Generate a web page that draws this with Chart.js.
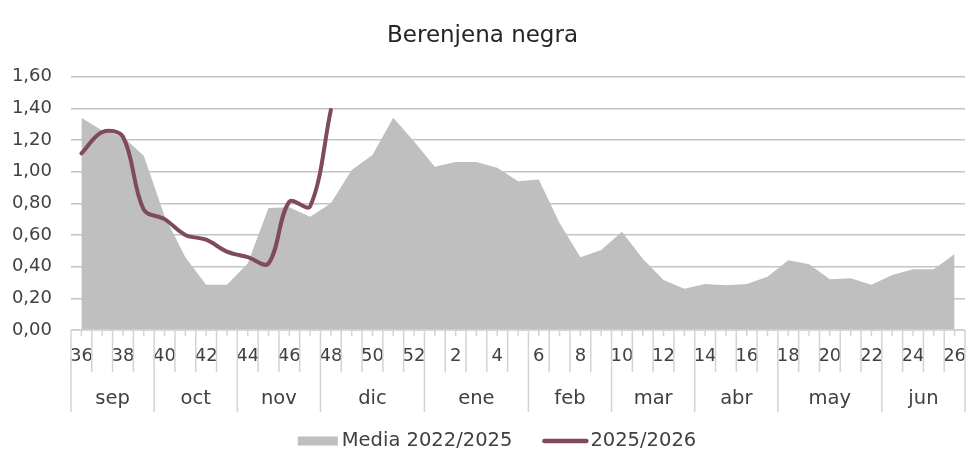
<!DOCTYPE html>
<html>
<head>
<meta charset="utf-8">
<script src="https://cdn.jsdelivr.net/npm/chart.js@4.4.1/dist/chart.umd.min.js"></script>
<style>
html,body{margin:0;padding:0;background:#ffffff;}
#wrap{width:971px;height:455px;}
</style>
</head>
<body>
<div id="wrap"><canvas id="c" width="971" height="455"></canvas></div>
<script>
// ---- data ----
const chartTitle = 'Berenjena negra';
const weeks = ['36','37','38','39','40','41','42','43','44','45','46','47','48','49','50','51','52',
               '1','2','3','4','5','6','7','8','9','10','11','12','13','14','15','16','17','18','19','20','21','22','23','24','25','26'];
const mediaLabel = 'Media 2022/2025';
const mediaValues = [1.34, 1.26, 1.22, 1.10, 0.72, 0.46, 0.285, 0.285, 0.42, 0.77, 0.775, 0.715, 0.80,
                     1.01, 1.105, 1.34, 1.19, 1.03, 1.06, 1.06, 1.025, 0.94, 0.95, 0.675, 0.46, 0.505,
                     0.62, 0.45, 0.315, 0.26, 0.29, 0.283, 0.29, 0.337, 0.44, 0.415, 0.32, 0.327, 0.285,
                     0.348, 0.384, 0.384, 0.48];
const currentLabel = '2025/2026';
const currentValues = [1.115, 1.25, 1.22, 0.76, 0.70, 0.60, 0.57, 0.495, 0.46, 0.42, 0.81, 0.78, 1.39];
const months = ['sep','oct','nov','dic','ene','feb','mar','abr','may','jun'];
const monthWeekCounts = [4, 4, 4, 5, 5, 4, 4, 4, 5, 4];
const yMin = 0, yMax = 1.6, yStep = 0.2;

// ---- styles ----
const FONT = "'DejaVu Sans', sans-serif";
const TEXT = '#404040';
const AREA = '#bfbfbf';
const LINE = '#7f4b5b';
const AXIS = '#d3d3d3';

Chart.defaults.font.family = FONT;
Chart.defaults.color = TEXT;

const decoPlugin = {
  id: 'decoPlugin',
  afterDraw(chart) {
    const ctx = chart.ctx, xs = chart.scales.x, area = chart.chartArea;
    const n = weeks.length;
    const half = (xs.getPixelForValue(1) - xs.getPixelForValue(0)) / 2;
    const bound = k => (k < n ? xs.getPixelForValue(k) - half : xs.getPixelForValue(n - 1) + half);
    const y0 = area.bottom;
    ctx.save();
    ctx.strokeStyle = AXIS;
    ctx.lineWidth = 1.5;
    ctx.beginPath();
    ctx.moveTo(bound(0), y0); ctx.lineTo(bound(n), y0);
    for (let k = 0; k <= n; k++) { const x = bound(k); ctx.moveTo(x, y0); ctx.lineTo(x, y0 + 42); }
    for (let i = 0; i < n; i++) { const x = xs.getPixelForValue(i); ctx.moveTo(x, y0); ctx.lineTo(x, y0 + 6); }
    let k = 0;
    ctx.moveTo(bound(0), y0); ctx.lineTo(bound(0), y0 + 82);
    monthWeekCounts.forEach(c => { k += c; const x = bound(k); ctx.moveTo(x, y0); ctx.lineTo(x, y0 + 82); });
    ctx.stroke();

    // month labels
    ctx.fillStyle = TEXT;
    ctx.font = "19.5px " + FONT;
    ctx.textAlign = 'center';
    ctx.textBaseline = 'alphabetic';
    k = 0;
    monthWeekCounts.forEach((c, m) => {
      const xa = bound(k), xb = bound(k + c);
      ctx.fillText(months[m], (xa + xb) / 2, y0 + 74);
      k += c;
    });

    // legend
    const ds = chart.data.datasets;
    ctx.font = "19.5px " + FONT;
    ctx.textAlign = 'left';
    ctx.textBaseline = 'middle';
    const w1 = ctx.measureText(ds[0].label).width, w2 = ctx.measureText(ds[1].label).width;
    const boxW = 40, gap1 = 4, gapMid = 30, lineW = 46, gap2 = 2;
    const total = boxW + gap1 + w1 + gapMid + lineW + gap2 + w2;
    let x = 497 - total / 2;
    const ly = 441;
    ctx.fillStyle = ds[0].backgroundColor;
    ctx.fillRect(x, ly - 4.5, boxW, 9);
    x += boxW + gap1;
    ctx.fillStyle = TEXT;
    ctx.fillText(ds[0].label, x, ly);
    x += w1 + gapMid;
    ctx.strokeStyle = ds[1].borderColor;
    ctx.lineWidth = 4.5;
    ctx.lineCap = 'round';
    ctx.beginPath(); ctx.moveTo(x + 2, ly); ctx.lineTo(x + lineW - 2, ly); ctx.stroke();
    x += lineW + gap2;
    ctx.fillText(ds[1].label, x, ly);
    ctx.restore();
  }
};

new Chart(document.getElementById('c'), {
  type: 'line',
  data: {
    labels: weeks,
    datasets: [
      {
        label: mediaLabel,
        data: mediaValues,
        backgroundColor: AREA,
        borderColor: AREA,
        borderWidth: 0,
        fill: 'origin',
        pointRadius: 0,
        tension: 0,
        order: 2
      },
      {
        label: currentLabel,
        data: currentValues,
        borderColor: LINE,
        backgroundColor: LINE,
        borderWidth: 4,
        fill: false,
        pointRadius: 0,
        tension: 0.35,
        borderCapStyle: 'round',
        borderJoinStyle: 'round',
        order: 1
      }
    ]
  },
  options: {
    responsive: false,
    animation: false,
    events: [],
    layout: { padding: { left: 0, right: 6, top: 0, bottom: 0 } },
    plugins: {
      legend: { display: false },
      tooltip: { enabled: false },
      title: {
        display: true,
        text: chartTitle,
        color: '#262626',
        font: { family: FONT, size: 23, weight: 'normal' },
        padding: { top: 22, bottom: 27 }
      }
    },
    scales: {
      x: {
        type: 'category',
        offset: true,
        grid: { display: false, drawTicks: false },
        border: { display: false },
        ticks: {
          autoSkip: false,
          maxRotation: 0,
          minRotation: 0,
          padding: 16,
          color: TEXT,
          font: { family: FONT, size: 18 },
          callback: function (value, index) { return index % 2 === 0 ? weeks[index] : ''; }
        },
        afterFit: s => { s.height = 125; s.paddingLeft = 0; s.paddingRight = 0; }
      },
      y: {
        min: yMin,
        max: yMax,
        grid: { color: '#c4c4c4', lineWidth: 1.5, drawTicks: false },
        border: { display: false },
        ticks: {
          stepSize: yStep,
          padding: 19,
          color: TEXT,
          font: { family: FONT, size: 18 },
          callback: v => Number(v).toFixed(2).replace('.', ',')
        },
        afterFit: s => { s.width = 71; }
      }
    }
  },
  plugins: [decoPlugin]
});
</script>
</body>
</html>
